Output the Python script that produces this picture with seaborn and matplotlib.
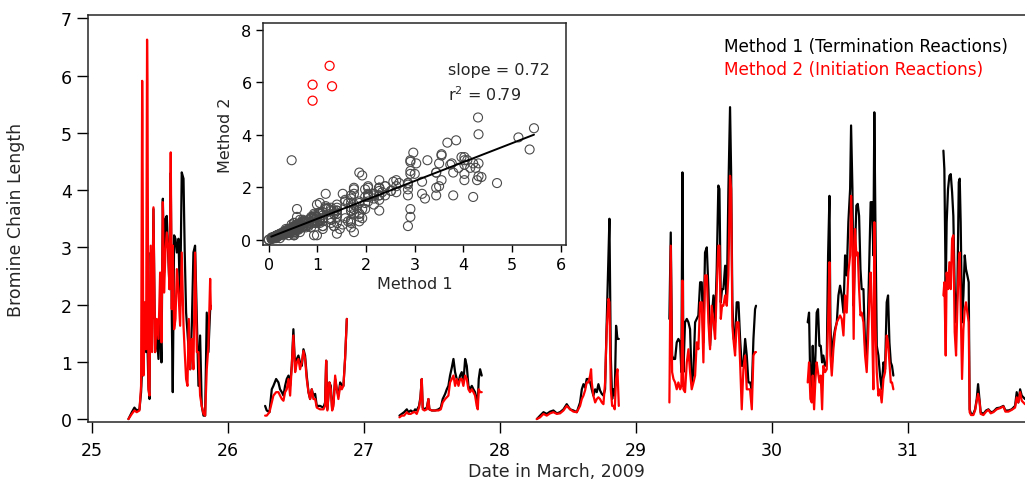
import numpy as np
import pandas as pd
import matplotlib
matplotlib.use("Agg")
import matplotlib.pyplot as plt
import seaborn as sns

# ---------------- data ----------------
day25_t = [25.267, 25.292, 25.311, 25.328, 25.348, 25.360, 25.368, 25.370, 25.377, 25.390, 25.397, 25.404, 25.407,
           25.414, 25.422, 25.431, 25.441, 25.451, 25.463, 25.475, 25.488, 25.500, 25.510, 25.520, 25.529, 25.539,
           25.549, 25.559, 25.569, 25.578, 25.586, 25.593, 25.603, 25.613, 25.623, 25.635, 25.647, 25.659, 25.672,
           25.681, 25.691, 25.701, 25.711, 25.721, 25.733, 25.745, 25.757, 25.770, 25.782, 25.794, 25.806, 25.819,
           25.831, 25.843, 25.855, 25.868, 25.873]
day25_m1 = [0.00, 0.12, 0.20, 0.15, 0.17, 0.47, 0.90, 0.90, 0.82, 2.04, 1.17, 1.25, 1.30,
            0.58, 0.35, 2.91, 1.75, 3.67, 1.17, 1.52, 1.05, 1.86, 0.99, 3.85, 2.56, 3.50,
            3.55, 2.91, 2.27, 4.30, 1.75, 0.47, 3.21, 3.15, 2.91, 3.15, 1.98, 4.31, 4.20,
            2.91, 1.86, 1.52, 1.17, 0.87, 1.63, 2.91, 3.03, 1.75, 0.58, 1.46, 0.23, 0.06,
            0.06, 1.86, 1.17, 1.92, 1.98]
day25_m2 = [0.00, 0.09, 0.15, 0.12, 0.15, 0.58, 5.91, 5.30, 0.76, 2.04, 1.22, 6.63, 5.85,
            0.52, 0.41, 3.03, 1.17, 3.70, 1.17, 1.75, 1.40, 2.56, 1.34, 3.79, 2.21, 2.91,
            3.26, 2.97, 2.27, 4.66, 1.92, 3.03, 1.57, 1.75, 2.62, 2.21, 1.63, 2.91, 1.63,
            1.17, 0.70, 0.58, 1.75, 0.87, 1.40, 0.87, 2.91, 1.17, 1.17, 0.41, 0.23, 0.09,
            0.06, 0.87, 1.28, 2.45, 1.92]

day26_t = [26.272, 26.284, 26.304, 26.321, 26.333, 26.353, 26.370, 26.382, 26.395, 26.407, 26.419, 26.431,
           26.444, 26.456, 26.468, 26.480, 26.493, 26.505, 26.517, 26.529, 26.542, 26.554, 26.566, 26.578,
           26.591, 26.603, 26.615, 26.627, 26.640, 26.652, 26.676, 26.701, 26.713, 26.721, 26.730, 26.745,
           26.755, 26.765, 26.775, 26.787, 26.799, 26.811, 26.824, 26.836, 26.848, 26.860, 26.873]
day26_m1 = [0.23, 0.15, 0.12, 0.52, 0.58, 0.70, 0.64, 0.52, 0.47, 0.41, 0.58, 0.70,
            0.76, 0.58, 0.93, 1.57, 0.87, 1.05, 1.11, 0.99, 0.93, 1.22, 1.11, 0.76,
            0.47, 0.35, 0.52, 0.41, 0.44, 0.23, 0.23, 0.20, 0.29, 1.02, 0.17, 0.64,
            0.58, 0.17, 0.29, 0.70, 0.52, 0.41, 0.64, 0.58, 0.58, 1.05, 1.75]
day26_m2 = [0.06, 0.06, 0.12, 0.29, 0.41, 0.47, 0.47, 0.41, 0.35, 0.32, 0.47, 0.52,
            0.70, 0.41, 0.93, 1.46, 0.82, 0.99, 1.05, 0.87, 0.99, 1.19, 1.05, 0.70,
            0.47, 0.35, 0.52, 0.35, 0.35, 0.20, 0.17, 0.17, 0.23, 1.02, 0.15, 0.64,
            0.52, 0.15, 0.23, 0.76, 0.52, 0.35, 0.58, 0.52, 0.58, 1.05, 1.75]

day27_t = [27.260, 27.277, 27.294, 27.314, 27.326, 27.343, 27.363, 27.375, 27.387, 27.404, 27.414, 27.424,
           27.431, 27.444, 27.461, 27.473, 27.480, 27.498, 27.522, 27.547, 27.564, 27.578, 27.596, 27.608,
           27.620, 27.632, 27.645, 27.657, 27.669, 27.681, 27.694, 27.706, 27.718, 27.730, 27.743, 27.755,
           27.767, 27.779, 27.792, 27.804, 27.816, 27.828, 27.836, 27.843, 27.853, 27.865]
day27_m1 = [0.06, 0.09, 0.12, 0.17, 0.12, 0.15, 0.12, 0.17, 0.15, 0.23, 0.38, 0.70,
            0.20, 0.17, 0.20, 0.35, 0.17, 0.15, 0.15, 0.17, 0.20, 0.35, 0.44, 0.52,
            0.58, 0.76, 0.90, 1.05, 0.82, 0.70, 0.64, 0.76, 0.82, 0.64, 1.05, 0.93,
            0.58, 0.52, 0.58, 0.52, 0.47, 0.35, 0.29, 0.70, 0.87, 0.76]
day27_m2 = [0.03, 0.06, 0.06, 0.12, 0.09, 0.09, 0.12, 0.12, 0.09, 0.20, 0.35, 0.70,
            0.17, 0.15, 0.17, 0.35, 0.17, 0.15, 0.15, 0.15, 0.17, 0.29, 0.35, 0.38,
            0.41, 0.64, 0.70, 0.76, 0.58, 0.70, 0.58, 0.70, 0.70, 0.58, 0.76, 0.70,
            0.52, 0.47, 0.52, 0.47, 0.41, 0.23, 0.17, 0.52, 0.47, 0.47]

day28_t = [28.270, 28.294, 28.319, 28.343, 28.368, 28.392, 28.417, 28.441, 28.466, 28.490, 28.515, 28.539,
           28.564, 28.588, 28.601, 28.613, 28.625, 28.637, 28.650, 28.662, 28.669, 28.674, 28.686, 28.699,
           28.711, 28.723, 28.735, 28.748, 28.760, 28.772, 28.784, 28.797, 28.804, 28.814, 28.824, 28.833,
           28.843, 28.853, 28.863, 28.873]
day28_m1 = [0.00, 0.06, 0.12, 0.09, 0.13, 0.15, 0.10, 0.12, 0.17, 0.26, 0.17, 0.15,
            0.12, 0.29, 0.52, 0.61, 0.55, 0.70, 0.70, 0.64, 0.58, 0.52, 0.41, 0.52,
            0.47, 0.61, 0.50, 0.44, 0.41, 0.52, 1.69, 2.86, 3.50, 1.11, 0.35, 0.52,
            0.41, 1.63, 1.40, 1.40]
day28_m2 = [0.00, 0.03, 0.09, 0.06, 0.10, 0.12, 0.09, 0.10, 0.15, 0.23, 0.17, 0.13,
            0.12, 0.23, 0.35, 0.41, 0.50, 0.64, 0.64, 0.76, 0.87, 0.64, 0.41, 0.29,
            0.35, 0.38, 0.35, 0.29, 0.26, 0.64, 1.57, 2.10, 2.04, 0.52, 0.23, 0.23,
            0.17, 0.70, 0.87, 0.23]

day29_t = [29.245, 29.255, 29.265, 29.275, 29.287, 29.299, 29.311, 29.324, 29.333, 29.341, 29.348, 29.360,
           29.373, 29.385, 29.397, 29.409, 29.422, 29.434, 29.446, 29.458, 29.471, 29.483, 29.495, 29.507,
           29.520, 29.532, 29.544, 29.556, 29.569, 29.581, 29.593, 29.605, 29.613, 29.623, 29.632, 29.642,
           29.655, 29.667, 29.679, 29.691, 29.699, 29.708, 29.718, 29.728, 29.740, 29.753, 29.765, 29.777,
           29.789, 29.802, 29.814, 29.826, 29.838, 29.851, 29.863, 29.875, 29.882]
day29_m1 = [1.75, 3.26, 1.11, 1.05, 1.05, 1.34, 1.40, 1.34, 0.82, 4.31, 0.82, 1.69,
            1.75, 1.69, 1.57, 0.64, 0.82, 1.69, 1.75, 1.81, 2.39, 2.39, 1.34, 2.91,
            3.00, 2.27, 1.28, 1.75, 2.16, 1.69, 2.62, 4.08, 4.02, 2.04, 2.27, 2.27,
            2.68, 2.04, 4.02, 5.45, 4.31, 2.04, 1.40, 1.34, 2.04, 2.04, 1.40, 0.93,
            0.93, 1.40, 1.11, 0.64, 0.64, 0.52, 1.40, 1.92, 1.98]
day29_m2 = [0.29, 3.03, 0.82, 0.70, 0.64, 0.52, 0.64, 0.52, 0.58, 2.42, 0.52, 0.47,
            0.99, 1.22, 0.82, 0.52, 0.64, 0.76, 1.34, 1.22, 2.04, 2.04, 0.99, 2.51,
            2.51, 1.69, 1.22, 1.98, 1.69, 1.40, 2.27, 3.03, 3.03, 1.75, 1.98, 1.98,
            2.16, 1.98, 2.51, 4.25, 4.02, 1.63, 1.34, 1.11, 1.69, 1.69, 0.99, 0.17,
            0.87, 1.11, 0.52, 0.52, 0.52, 0.17, 1.11, 1.17, 1.17]

day30_t = [30.262, 30.272, 30.282, 30.292, 30.299, 30.309, 30.319, 30.328, 30.338, 30.348, 30.358, 30.368,
           30.377, 30.390, 30.402, 30.412, 30.422, 30.429, 30.439, 30.451, 30.463, 30.476, 30.488, 30.500,
           30.512, 30.525, 30.537, 30.549, 30.561, 30.574, 30.581, 30.591, 30.600, 30.610, 30.620, 30.630,
           30.640, 30.650, 30.659, 30.672, 30.684, 30.696, 30.706, 30.716, 30.725, 30.735, 30.745, 30.752,
           30.760, 30.770, 30.782, 30.794, 30.806, 30.819, 30.831, 30.843, 30.853, 30.863, 30.873, 30.882,
           30.892]
day30_m1 = [1.69, 1.86, 0.52, 0.64, 1.28, 0.52, 1.11, 1.86, 1.92, 1.28, 1.28, 0.99,
            1.11, 0.93, 0.99, 2.86, 3.90, 1.69, 0.93, 1.40, 1.57, 1.69, 2.16, 2.33,
            2.16, 1.86, 2.86, 2.51, 3.44, 4.02, 5.13, 4.02, 1.98, 2.97, 3.73, 3.76,
            3.55, 2.62, 2.27, 2.27, 1.28, 1.11, 1.86, 2.86, 3.79, 3.79, 2.86, 5.36,
            3.44, 1.28, 1.11, 0.76, 0.52, 0.99, 0.87, 2.04, 2.16, 1.34, 0.99, 0.93,
            0.76]
day30_m2 = [0.64, 0.99, 0.35, 0.29, 0.76, 0.17, 0.70, 0.99, 0.82, 0.64, 0.76, 0.17,
            0.93, 0.82, 0.87, 1.69, 2.74, 1.11, 0.76, 1.22, 1.52, 1.69, 1.75, 1.81,
            1.75, 1.46, 2.16, 1.86, 2.56, 2.86, 3.90, 3.15, 1.40, 3.32, 2.86, 2.91,
            2.27, 1.81, 1.86, 1.69, 1.11, 0.82, 1.40, 2.16, 2.56, 1.69, 0.52, 3.44,
            1.69, 0.82, 0.41, 0.52, 0.29, 0.70, 0.82, 1.46, 1.34, 0.99, 0.64, 0.64,
            0.52]

day31_t = [31.260, 31.267, 31.277, 31.284, 31.294, 31.304, 31.314, 31.324, 31.333, 31.343, 31.353, 31.363,
           31.373, 31.380, 31.387, 31.397, 31.407, 31.417, 31.426, 31.436, 31.446, 31.453, 31.463, 31.480,
           31.493, 31.505, 31.515, 31.525, 31.534, 31.554, 31.574, 31.591, 31.608, 31.627, 31.652, 31.676,
           31.701, 31.716, 31.738, 31.762, 31.787, 31.799, 31.811, 31.824, 31.836, 31.860]
day31_m1 = [4.69, 4.37, 2.27, 3.44, 4.02, 4.25, 4.28, 3.96, 3.55, 2.27, 1.69, 2.27,
            4.14, 4.20, 3.44, 1.69, 2.16, 2.86, 2.62, 2.51, 2.39, 0.17, 0.09, 0.09,
            0.17, 0.35, 0.61, 0.35, 0.12, 0.09, 0.15, 0.17, 0.12, 0.13, 0.19, 0.20,
            0.23, 0.15, 0.15, 0.17, 0.23, 0.47, 0.29, 0.52, 0.41, 0.35]
day31_m2 = [2.16, 2.39, 1.11, 2.56, 2.27, 2.74, 2.27, 3.15, 3.21, 1.52, 1.11, 1.98,
            2.74, 2.91, 1.98, 0.70, 1.57, 1.92, 2.04, 1.86, 1.69, 0.12, 0.07, 0.07,
            0.15, 0.32, 0.44, 0.32, 0.09, 0.07, 0.13, 0.16, 0.10, 0.12, 0.17, 0.19,
            0.22, 0.13, 0.13, 0.16, 0.20, 0.38, 0.29, 0.47, 0.32, 0.26]

x_ticks = [25, 26, 27, 28, 29, 30, 31]
y_ticks = [0, 1, 2, 3, 4, 5, 6, 7]
inset_x_ticks = [0, 1, 2, 3, 4, 5, 6]
inset_y_ticks = [0, 2, 4, 6, 8]
fit_slope = 0.72
fit_intercept = 0.08
fit_r2 = 0.79
fit_x_range = [0.05, 5.45]
outlier_threshold = 5.0

label_m1 = "Method 1 (Termination Reactions)"
label_m2 = "Method 2 (Initiation Reactions)"

# ---------------- build table ----------------
segments = [
    (day25_t, day25_m1, day25_m2), (day26_t, day26_m1, day26_m2), (day27_t, day27_m1, day27_m2),
    (day28_t, day28_m1, day28_m2), (day29_t, day29_m1, day29_m2), (day30_t, day30_m1, day30_m2),
    (day31_t, day31_m1, day31_m2),
]
frames = []
for i, (t, a, b) in enumerate(segments):
    frames.append(pd.DataFrame({"day": t, "m1": a, "m2": b, "seg": i}))
df = pd.concat(frames, ignore_index=True)

# ---------------- style ----------------
sns.set_theme(style="ticks")
plt.rcParams["font.family"] = ["DejaVu Sans"]
plt.rcParams["axes.linewidth"] = 1.1

fig = plt.figure(figsize=(10.25, 4.85), dpi=100)
ax = fig.add_axes([0.0859, 0.128, 0.9141, 0.839])

sns.lineplot(data=df, x="day", y="m1", units="seg", estimator=None, color="black",
             linewidth=1.6, ax=ax, sort=False)
sns.lineplot(data=df, x="day", y="m2", units="seg", estimator=None, color="#ff0000",
             linewidth=1.6, ax=ax, sort=False)

ax.set_xlim(24.97, 31.86)
ax.set_ylim(-0.05, 7.06)
ax.set_xticks(x_ticks)
ax.set_yticks(y_ticks)
ax.tick_params(axis="both", direction="out", length=8, width=1, labelsize=12.5, colors="black")
ax.tick_params(axis="x", pad=6)
ax.spines["right"].set_visible(False)
ax.set_xlabel("Date in March, 2009", fontsize=12.5, labelpad=2)
ax.set_ylabel("Bromine Chain Length", fontsize=12.5, labelpad=26)

ax.text(0.6787, 0.925, label_m1, transform=ax.transAxes, color="black", fontsize=12.2, va="center")
ax.text(0.6787, 0.867, label_m2, transform=ax.transAxes, color="#ff0000", fontsize=12.2, va="center")

# ---------------- inset scatter ----------------
ins = fig.add_axes([0.257, 0.4934, 0.2953, 0.4565])
ins.set_facecolor("white")
normal = df[df["m2"] <= outlier_threshold]
outl = df[df["m2"] > outlier_threshold]
sns.scatterplot(x=normal["m1"], y=normal["m2"], ax=ins, marker="o", s=42,
                facecolor="none", edgecolor="#4a4a4a", linewidth=0.8, zorder=2)
sns.scatterplot(x=outl["m1"], y=outl["m2"], ax=ins, marker="o", s=42,
                facecolor="none", edgecolor="#ff0000", linewidth=0.9, zorder=2)
fx = np.array(fit_x_range)
ins.plot(fx, fit_slope * fx + fit_intercept, color="black", linewidth=1.4, zorder=3)

ins.set_xlim(-0.11, 6.11)
ins.set_ylim(-0.19, 8.25)
ins.set_xticks(inset_x_ticks)
ins.set_yticks(inset_y_ticks)
ins.tick_params(axis="both", direction="out", length=5, width=1, labelsize=11.5, colors="black")
ins.set_xlabel("Method 1", fontsize=11.5, labelpad=3)
ins.set_ylabel("Method 2", fontsize=11.5, labelpad=6)
ins.text(3.68, 6.5, f"slope = {fit_slope:.2f}", fontsize=11.5, va="center")
ins.text(3.68, 5.55, f"r$^2$ = {fit_r2:.2f}", fontsize=11.5, va="center")

fig.savefig("out.png", dpi=100)
